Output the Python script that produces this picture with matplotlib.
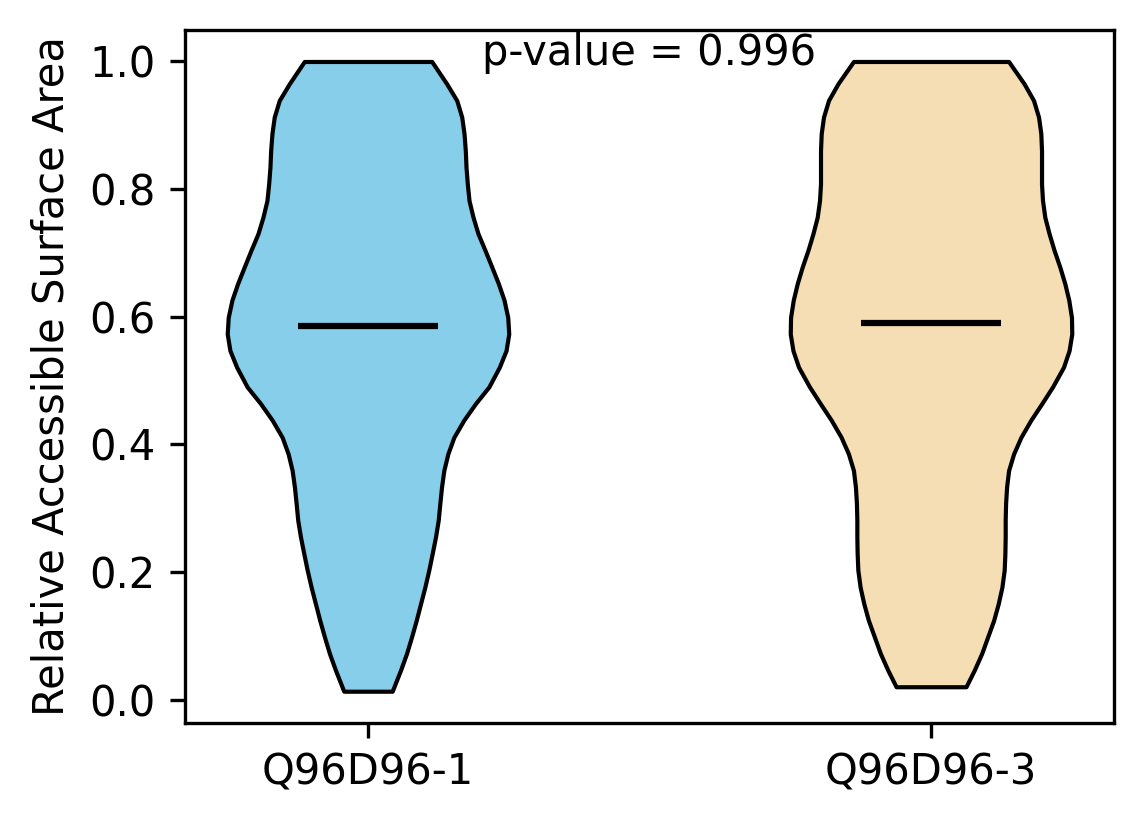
import matplotlib
matplotlib.use("Agg")
import matplotlib.pyplot as plt
import numpy as np

# Categories
labels = ["Q96D96-1", "Q96D96-3"]
colors = ["#87CEEB", "#F5DEB3"]
p_text = "p-value = 0.996"

# Estimated density profiles (relative width)
coords_1 = [0.013, 0.046, 0.072, 0.098, 0.124, 0.150, 0.176, 0.203, 0.229, 0.255,
            0.281, 0.307, 0.333, 0.359, 0.385, 0.411, 0.438, 0.464, 0.490, 0.521,
            0.547, 0.573, 0.599, 0.626, 0.652, 0.678, 0.704, 0.730, 0.756, 0.782,
            0.808, 0.834, 0.860, 0.887, 0.913, 0.939, 0.965, 1.000]
dens_1 = [24.2, 32.5, 38.5, 43.5, 48.2, 52.5, 56.8, 60.8, 64.2, 67.5,
          70.2, 71.8, 73.5, 75.8, 79.8, 85.8, 95.8, 107.5, 120.8, 131.3,
          138.0, 140.7, 139.7, 136.0, 130.3, 123.7, 117.0, 110.0, 105.0, 101.0,
          99.3, 98.0, 97.3, 96.0, 93.7, 88.7, 78.7, 63.7]

coords_2 = [0.020, 0.046, 0.072, 0.098, 0.124, 0.150, 0.176, 0.203, 0.229, 0.255,
            0.281, 0.307, 0.333, 0.359, 0.385, 0.411, 0.438, 0.464, 0.490, 0.521,
            0.547, 0.573, 0.599, 0.626, 0.652, 0.678, 0.704, 0.730, 0.756, 0.782,
            0.808, 0.834, 0.860, 0.887, 0.913, 0.939, 0.965, 1.000]
dens_2 = [35.0, 43.3, 50.7, 56.7, 62.7, 67.3, 71.0, 73.3, 74.0, 74.3,
          74.3, 74.7, 75.7, 77.7, 82.7, 90.0, 100.0, 111.0, 121.7, 132.7,
          138.3, 141.0, 140.7, 138.0, 134.0, 129.0, 123.3, 118.3, 114.0, 111.7,
          110.7, 110.7, 110.7, 110.0, 107.7, 102.7, 93.3, 77.7]

means = [0.585, 0.590]

vpstats = []
for c, d, m in zip([coords_1, coords_2], [dens_1, dens_2], means):
    vpstats.append(dict(coords=np.array(c), vals=np.array(d), mean=m,
                        median=m, min=min(c), max=max(c)))

fig = plt.figure(figsize=(1144 / 300, 824 / 300), dpi=300)
ax = fig.add_axes([185 / 1144, 1 - 722.7 / 824, (1114 - 185) / 1144, (722.7 - 30) / 824])

parts = ax.violin(vpstats, positions=[1, 2], widths=0.5,
                  showmeans=True, showextrema=False, showmedians=False)
for body, col in zip(parts["bodies"], colors):
    body.set_facecolor(col)
    body.set_edgecolor("black")
    body.set_linewidth(1)
    body.set_alpha(1)
parts["cmeans"].set_color("black")
parts["cmeans"].set_linewidth(1.5)

ax.set_xticks([1, 2])
ax.set_xticklabels(labels)
ax.set_ylabel("Relative Accessible Surface Area")
ax.text(0.5, 0.95, p_text, transform=ax.transAxes, ha="center")

fig.savefig("out.png", dpi=300)
